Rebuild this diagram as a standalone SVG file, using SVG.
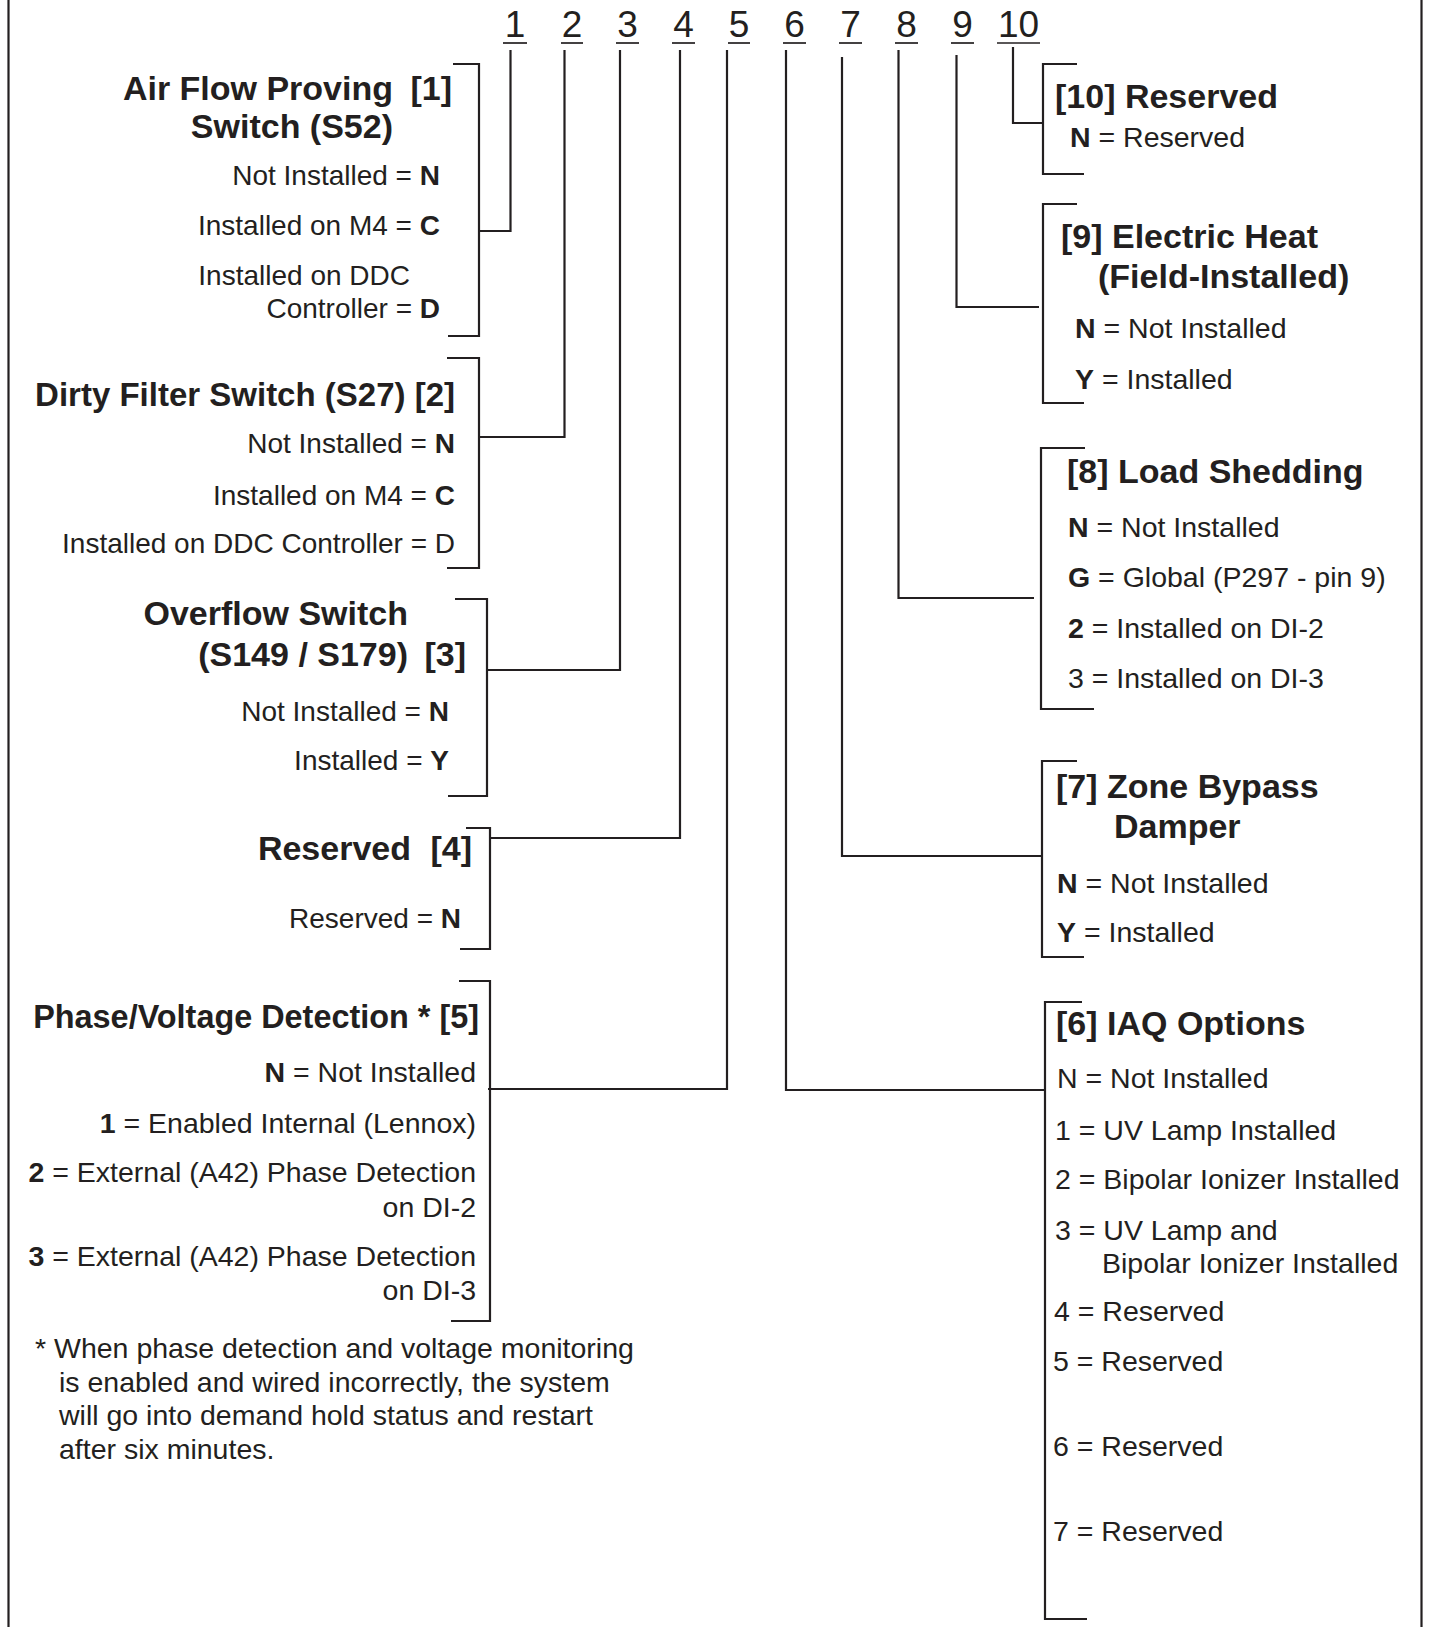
<svg xmlns="http://www.w3.org/2000/svg" width="1429" height="1627" viewBox="0 0 1429 1627">
<style>
text{font-family:"Liberation Sans",Arial,sans-serif;fill:#231f20}
.t{font-size:34px;font-weight:bold}
.o{font-size:28.5px}
.s{font-size:28px}
.d{font-size:37px}
.e{text-anchor:end}
.b{font-weight:bold}
.ln{fill:none;stroke:#231f20;stroke-width:2.2}
.ul{stroke:#231f20;stroke-width:1.7}
</style>
<rect width="1429" height="1627" fill="#fff"/>
<g id="frame">
<line class="ln" x1="8.5" y1="0" x2="8.5" y2="1627" stroke-width="2.5"/>
<line class="ln" x1="1421.5" y1="0" x2="1421.5" y2="1627" stroke-width="2.5"/>
</g>
<g id="digits">
<text class="d" x="515" y="37" text-anchor="middle">1</text>
<text class="d" x="572" y="37" text-anchor="middle">2</text>
<text class="d" x="627.5" y="37" text-anchor="middle">3</text>
<text class="d" x="683.5" y="37" text-anchor="middle">4</text>
<text class="d" x="739" y="37" text-anchor="middle">5</text>
<text class="d" x="794.5" y="37" text-anchor="middle">6</text>
<text class="d" x="850.5" y="37" text-anchor="middle">7</text>
<text class="d" x="906.5" y="37" text-anchor="middle">8</text>
<text class="d" x="962.5" y="37" text-anchor="middle">9</text>
<text class="d" x="1018.5" y="37" text-anchor="middle">10</text>
<line class="ul" x1="503" y1="43" x2="527" y2="43"/>
<line class="ul" x1="561" y1="43" x2="583" y2="43"/>
<line class="ul" x1="616" y1="43" x2="639" y2="43"/>
<line class="ul" x1="672" y1="43" x2="695" y2="43"/>
<line class="ul" x1="728" y1="43" x2="750" y2="43"/>
<line class="ul" x1="783" y1="43" x2="806" y2="43"/>
<line class="ul" x1="839" y1="43" x2="862" y2="43"/>
<line class="ul" x1="895" y1="43" x2="918" y2="43"/>
<line class="ul" x1="951" y1="43" x2="974" y2="43"/>
<line class="ul" x1="997" y1="43" x2="1040" y2="43"/>
</g>
<g id="node1">
<path class="ln" d="M453,64 H479 V336 H448"/>
<text class="t e" x="393" y="100">Air Flow Proving</text>
<text class="t e" x="452" y="100">[1]</text>
<text class="t e" x="393" y="138">Switch (S52)</text>
<text class="s e" x="440" y="185">Not Installed = <tspan class="b">N</tspan></text>
<text class="s e" x="440" y="235">Installed on M4 = <tspan class="b">C</tspan></text>
<text class="s e" x="410" y="285">Installed on DDC</text>
<text class="s e" x="440" y="318">Controller = <tspan class="b">D</tspan></text>
</g>
<g id="node2">
<path class="ln" d="M447,358 H479 V568 H447"/>
<text class="t e" x="455" y="406" style="font-size:33px">Dirty Filter Switch (S27) [2]</text>
<text class="s e" x="455" y="453">Not Installed = <tspan class="b">N</tspan></text>
<text class="s e" x="455" y="505">Installed on M4 = <tspan class="b">C</tspan></text>
<text class="s e" x="455" y="553">Installed on DDC Controller = D</text>
</g>
<g id="node3">
<path class="ln" d="M455,599 H487 V796 H448"/>
<text class="t e" x="408" y="625">Overflow Switch</text>
<text class="t e" x="408" y="666">(S149 / S179)</text>
<text class="t e" x="466" y="666">[3]</text>
<text class="s e" x="449" y="721">Not Installed = <tspan class="b">N</tspan></text>
<text class="s e" x="449" y="770">Installed = <tspan class="b">Y</tspan></text>
</g>
<g id="node4">
<path class="ln" d="M466,828 H490 V949 H460"/>
<text class="t e" x="411" y="860">Reserved</text>
<text class="t e" x="472" y="860">[4]</text>
<text class="s e" x="461" y="928">Reserved = <tspan class="b">N</tspan></text>
</g>
<g id="node5">
<path class="ln" d="M459,981 H490 V1321 H451"/>
<text class="t e" x="479" y="1028" style="font-size:32.4px">Phase/Voltage Detection * [5]</text>
<text class="o e" x="476" y="1082"><tspan class="b">N</tspan> = Not Installed</text>
<text class="o e" x="476" y="1133"><tspan class="b">1</tspan> = Enabled Internal (Lennox)</text>
<text class="o e" x="476" y="1182"><tspan class="b">2</tspan> = External (A42) Phase Detection</text>
<text class="o e" x="476" y="1217">on DI-2</text>
<text class="o e" x="476" y="1266"><tspan class="b">3</tspan> = External (A42) Phase Detection</text>
<text class="o e" x="476" y="1300">on DI-3</text>
</g>
<g id="footnote">
<text class="o" x="35" y="1358">* When phase detection and voltage monitoring</text>
<text class="o" x="59" y="1392">is enabled and wired incorrectly, the system</text>
<text class="o" x="59" y="1425">will go into demand hold status and restart</text>
<text class="o" x="59" y="1459">after six minutes.</text>
</g>
<g id="node10">
<path class="ln" d="M1077,64 H1043 V174 H1084"/>
<text class="t" x="1055" y="108">[10] Reserved</text>
<text class="o" x="1070" y="147"><tspan class="b">N</tspan> = Reserved</text>
</g>
<g id="node9">
<path class="ln" d="M1077,204 H1043 V403 H1084"/>
<text class="t" x="1061" y="248">[9] Electric Heat</text>
<text class="t" x="1098" y="288">(Field-Installed)</text>
<text class="o" x="1075" y="338"><tspan class="b">N</tspan> = Not Installed</text>
<text class="o" x="1075" y="389"><tspan class="b">Y</tspan> = Installed</text>
</g>
<g id="node8">
<path class="ln" d="M1085,448 H1041 V709 H1094"/>
<text class="t" x="1067" y="483">[8] Load Shedding</text>
<text class="o" x="1068" y="537"><tspan class="b">N</tspan> = Not Installed</text>
<text class="o" x="1068" y="587"><tspan class="b">G</tspan> = Global (P297 - pin 9)</text>
<text class="o" x="1068" y="638"><tspan class="b">2</tspan> = Installed on DI-2</text>
<text class="o" x="1068" y="688">3 = Installed on DI-3</text>
</g>
<g id="node7">
<path class="ln" d="M1077,761 H1042 V957 H1084"/>
<text class="t" x="1056" y="798">[7] Zone Bypass</text>
<text class="t" x="1114" y="838">Damper</text>
<text class="o" x="1057" y="893"><tspan class="b">N</tspan> = Not Installed</text>
<text class="o" x="1057" y="942"><tspan class="b">Y</tspan> = Installed</text>
</g>
<g id="node6">
<path class="ln" d="M1082,1002 H1045 V1619 H1087"/>
<text class="t" x="1056" y="1035">[6] IAQ Options</text>
<text class="o" x="1057" y="1088">N = Not Installed</text>
<text class="o" x="1055" y="1140">1 = UV Lamp Installed</text>
<text class="o" x="1055" y="1189">2 = Bipolar Ionizer Installed</text>
<text class="o" x="1055" y="1240">3 = UV Lamp and</text>
<text class="o" x="1102" y="1273">Bipolar Ionizer Installed</text>
<text class="o" x="1054" y="1321">4 = Reserved</text>
<text class="o" x="1053" y="1371">5 = Reserved</text>
<text class="o" x="1053" y="1456">6 = Reserved</text>
<text class="o" x="1053" y="1541">7 = Reserved</text>
</g>
<g id="connectors">
<path class="ln" d="M510.5,50 V231 H479"/>
<path class="ln" d="M564.5,50 V437 H480"/>
<path class="ln" d="M620,50 V670 H488"/>
<path class="ln" d="M680,50 V838 H491"/>
<path class="ln" d="M727,50 V1089 H488"/>
<path class="ln" d="M786,50 V1090 H1045"/>
<path class="ln" d="M842,57 V856 H1042"/>
<path class="ln" d="M898.5,50 V598 H1034"/>
<path class="ln" d="M956.5,55 V307 H1039"/>
<path class="ln" d="M1013,47 V123 H1043"/>
</g>
</svg>
